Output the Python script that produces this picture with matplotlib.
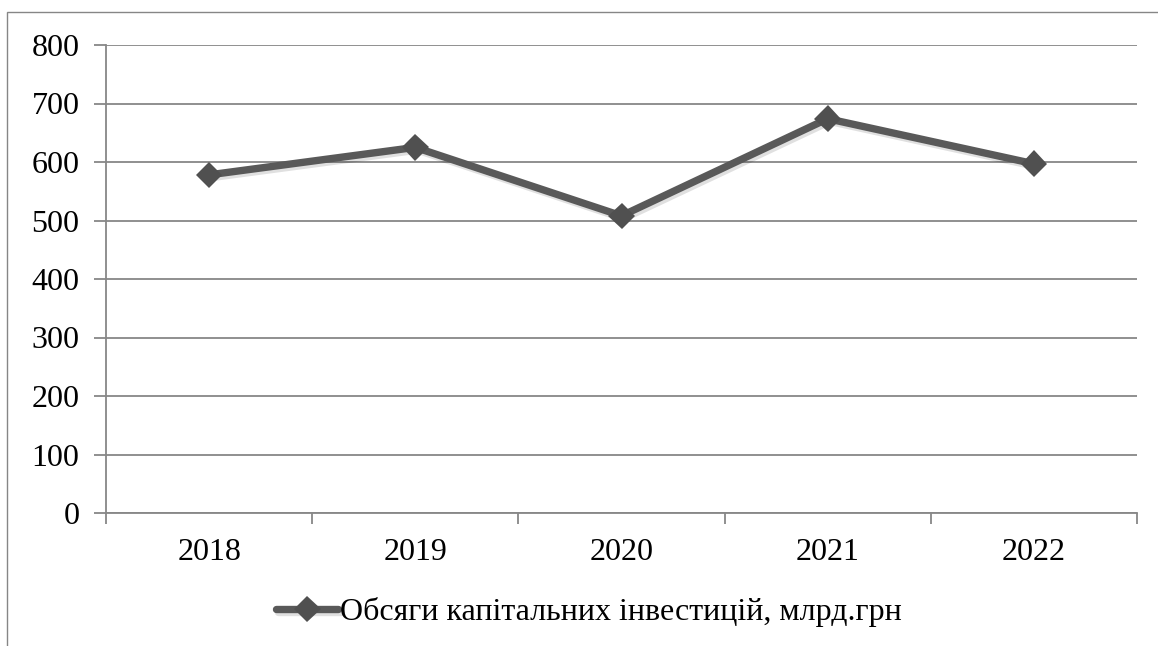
import matplotlib.pyplot as plt
import matplotlib.patheffects as pe
from matplotlib.patches import Rectangle

# Data
years = ['2018', '2019', '2020', '2021', '2022']
investments = [578, 625, 508, 674, 597]
y_ticks = [0, 100, 200, 300, 400, 500, 600, 700, 800]
series_label = 'Обсяги капітальних інвестицій, млрд.грн'

plt.rcParams['font.family'] = ['Liberation Serif', 'DejaVu Serif']

W, H = 1158, 646
fig = plt.figure(figsize=(W / 100, H / 100), dpi=100)

# outer chart border (cropped on the right and bottom in the original)
fig.patches.append(Rectangle((7 / W, -0.05), 1.1, 1.05 - 12 / H,
                             transform=fig.transFigure, fill=False,
                             edgecolor='#868686', linewidth=1.0))

ax = fig.add_axes([106 / W, 1 - 513 / H, (1137 - 106) / W, (513 - 45) / H])

x = list(range(len(years)))
line, = ax.plot(x, investments, color='#595959', linewidth=5.3,
                marker='D', markersize=13.5, markerfacecolor='#505050',
                markeredgewidth=0, solid_capstyle='round', zorder=3,
                label=series_label)
line.set_path_effects([pe.SimpleLineShadow(offset=(1.5, -2), shadow_color='#000000', alpha=0.12),
                       pe.Normal()])

ax.set_xlim(-0.5, len(years) - 0.5)
ax.set_ylim(0, 800)
ax.set_yticks(y_ticks)
ax.set_yticklabels([str(v) for v in y_ticks])
ax.set_xticks(x)
ax.set_xticklabels(years)
ax.set_xticks([i - 0.5 for i in range(len(years) + 1)], minor=True)

ax.yaxis.grid(True, color='#878787', linewidth=1.3)
ax.set_axisbelow(True)

for side in ['top', 'right']:
    ax.spines[side].set_visible(False)
for side in ['left', 'bottom']:
    ax.spines[side].set_color('#878787')
    ax.spines[side].set_linewidth(1.3)

ax.tick_params(axis='y', direction='out', length=9, width=1.3, color='#878787',
               labelsize=23, pad=10)
ax.tick_params(axis='x', which='major', length=0, labelsize=23, pad=18)
ax.tick_params(axis='x', which='minor', direction='out', length=8, width=1.3,
               color='#878787')

fig.legend(handles=[line], loc='center', bbox_to_anchor=(589 / W, 1 - 612 / H),
           frameon=False, fontsize=23, handlelength=1.95, handletextpad=0.05,
           borderpad=0)

fig.savefig('out.png', dpi=100, facecolor='white')
